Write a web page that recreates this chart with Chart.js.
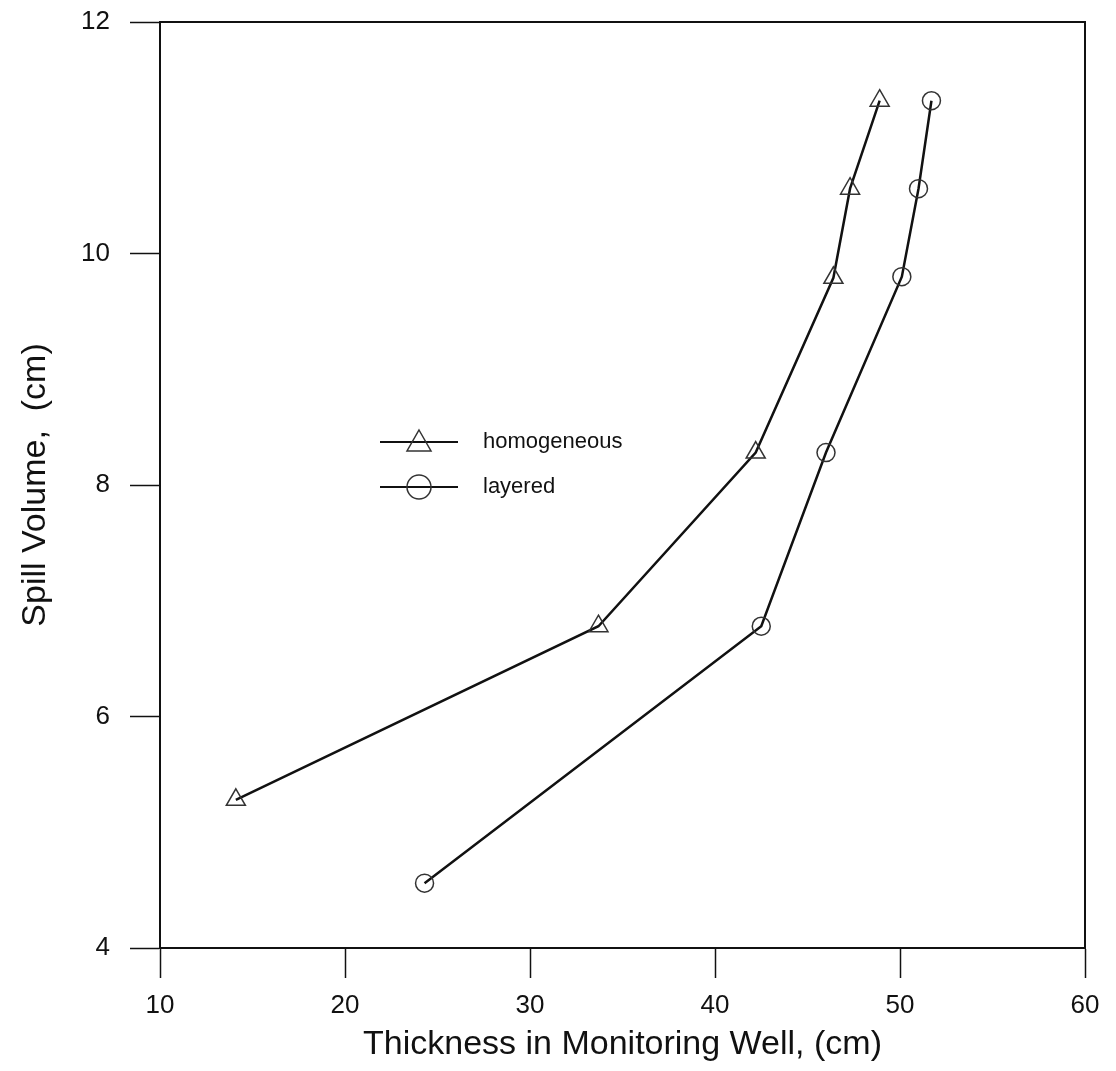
<!DOCTYPE html>
<html>
<head>
<meta charset="utf-8">
<title>Spill Volume vs Thickness in Monitoring Well</title>
<script src="https://cdn.jsdelivr.net/npm/chart.js@4.4.1/dist/chart.umd.min.js"></script>
<style>
  html, body { margin: 0; padding: 0; background: #fff; }
  #wrap { width: 1116px; height: 1071px; position: relative; }
</style>
</head>
<body>
<div id="wrap"><canvas id="chart"></canvas></div>
<script>
// ─── Data ────────────────────────────────────────────────────────────────────
const homogeneousThickness = [14.1, 33.7, 42.2, 46.4, 47.3, 48.9];
const homogeneousVolume    = [5.28, 6.78, 8.28, 9.79, 10.56, 11.32];
const layeredThickness     = [24.3, 42.5, 46.0, 50.1, 51.0, 51.7];
const layeredVolume        = [4.56, 6.78, 8.28, 9.80, 10.56, 11.32];

const xTicks = [10, 20, 30, 40, 50, 60];
const yTicks = [4, 6, 8, 10, 12];

const seriesNames = ['homogeneous', 'layered'];

const FONT = '"Liberation Sans", Arial, Helvetica, sans-serif';
const INK = '#111';

const toPoints = (xs, ys) => xs.map((x, i) => ({ x, y: ys[i] }));

// ─── Plugins ─────────────────────────────────────────────────────────────────
// closed frame round the plot area (top and right edges too)
const framePlugin = {
  id: 'frame',
  afterDraw(chart) {
    const { ctx, chartArea: a } = chart;
    ctx.save();
    ctx.strokeStyle = INK;
    ctx.lineWidth = 2;
    ctx.strokeRect(a.left, a.top, a.right - a.left, a.bottom - a.top);
    ctx.restore();
  }
};

// legend sits inside the plot, left of the curves
const insideLegend = {
  id: 'insideLegend',
  afterDraw(chart) {
    const { ctx, chartArea: a } = chart;
    const x0 = a.left + 220, x1 = a.left + 298, tx = a.left + 323;
    const rows = [a.top + 420, a.top + 465];
    ctx.save();
    ctx.font = '22px ' + FONT;
    ctx.textBaseline = 'middle';
    ctx.fillStyle = INK;
    rows.forEach((y, i) => {
      const cx = (x0 + x1) / 2;
      ctx.strokeStyle = INK;
      ctx.lineWidth = 2;
      ctx.beginPath(); ctx.moveTo(x0, y); ctx.lineTo(x1, y); ctx.stroke();
      ctx.lineWidth = 1.5;
      ctx.strokeStyle = '#333';
      ctx.beginPath();
      if (i === 0) {
        ctx.moveTo(cx, y - 12);
        ctx.lineTo(cx + 12, y + 9);
        ctx.lineTo(cx - 12, y + 9);
        ctx.closePath();
      } else {
        ctx.arc(cx, y, 12, 0, Math.PI * 2);
      }
      ctx.stroke();
      ctx.fillText(seriesNames[i], tx, y);
    });
    ctx.restore();
  }
};

// ─── Chart ───────────────────────────────────────────────────────────────────
const lineDataset = (label, pts, style) => ({
  label,
  data: pts,
  borderColor: INK,
  borderWidth: 2.5,
  backgroundColor: '#fff',
  pointStyle: style,
  pointRadius: style === 'triangle' ? 11 : 9,
  pointBorderColor: '#333',
  pointBorderWidth: 1.5,
  pointBackgroundColor: 'rgba(255,255,255,0)',
  tension: 0,
  fill: false
});

new Chart(document.getElementById('chart'), {
  type: 'line',
  data: {
    datasets: [
      lineDataset(seriesNames[0], toPoints(homogeneousThickness, homogeneousVolume), 'triangle'),
      lineDataset(seriesNames[1], toPoints(layeredThickness, layeredVolume), 'circle')
    ]
  },
  options: {
    responsive: true,
    maintainAspectRatio: false,
    animation: false,
    layout: { padding: { top: 22, right: 31, bottom: 6, left: 6 } },
    plugins: {
      legend: { display: false },
      tooltip: { enabled: false }
    },
    scales: {
      x: {
        type: 'linear',
        min: 10, max: 60,
        afterBuildTicks: s => { s.ticks = xTicks.map(v => ({ value: v })); },
        afterFit: s => { s.height = 117; s.paddingLeft = 0; s.paddingRight = 0; },
        border: { display: true, color: INK, width: 2 },
        grid: { drawOnChartArea: false, drawTicks: true, tickLength: 30, color: INK, tickWidth: 1.5 },
        ticks: { color: INK, padding: 12, font: { family: FONT, size: 26 } },
        title: {
          display: true,
          text: 'Thickness in Monitoring Well, (cm)',
          color: INK,
          font: { family: FONT, size: 34 },
          padding: { top: 0, bottom: 0 }
        }
      },
      y: {
        type: 'linear',
        min: 4, max: 12,
        afterBuildTicks: s => { s.ticks = yTicks.map(v => ({ value: v })); },
        afterFit: s => { s.width = 154; s.paddingTop = 0; s.paddingBottom = 0; },
        border: { display: true, color: INK, width: 2 },
        grid: { drawOnChartArea: false, drawTicks: true, tickLength: 30, color: INK, tickWidth: 1.5 },
        ticks: { color: INK, padding: 20, font: { family: FONT, size: 26 } },
        title: {
          display: true,
          text: 'Spill Volume,  (cm)',
          color: INK,
          font: { family: FONT, size: 34 },
          padding: { top: 9, bottom: 0 }
        }
      }
    }
  },
  plugins: [framePlugin, insideLegend]
});
</script>
</body>
</html>
